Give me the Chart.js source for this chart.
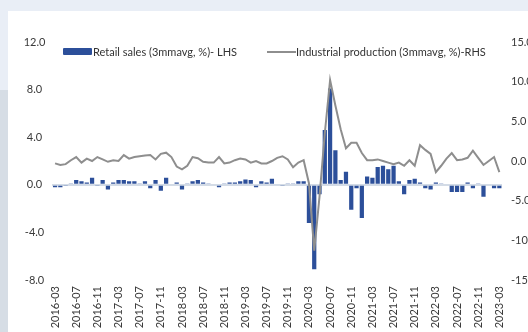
<!DOCTYPE html>
<html>
<head>
<meta charset="utf-8">
<script src="https://cdn.jsdelivr.net/npm/chart.js@4.4.1/dist/chart.umd.min.js"></script>
<style>
  html, body { margin: 0; padding: 0; }
  body {
    width: 528px; height: 332px; position: relative; overflow: hidden;
    background: #e9eef6; font-family: Lato, "Open Sans", sans-serif;
  }
  #sideShade { position: absolute; left: 0; top: 90px; width: 8px; height: 242px; background: #d6dde5; }
  #card { position: absolute; left: 8px; top: 11px; right: 0; bottom: 0; background: #fff; }
  #chart { position: absolute; left: 0; top: 0; }
  .swatch { position: absolute; }
  .legend-text { position: absolute; top: 44px; font-size: 11px; line-height: 15px; color: #333; white-space: nowrap; }
</style>
</head>
<body>
<div id="sideShade"></div>
<div id="card"></div>
<canvas id="chart" width="528" height="332"></canvas>

<div class="swatch" style="left:63px; top:48px; width:29px; height:7px; background:#2c4f9a; border-radius:1px;"></div>
<div class="legend-text" style="left:93px;">Retail sales (3mmavg, %)- LHS</div>
<div class="swatch" style="left:267px; top:51px; width:29px; height:2px; background:#8e8e8e;"></div>
<div class="legend-text" style="left:296px;">Industrial production (3mmavg, %)-RHS</div>

<script>
// Monthly series, 2016-03 .. 2023-03
const months = [
  "2016-03", "2016-04", "2016-05", "2016-06", "2016-07", "2016-08", "2016-09", "2016-10", "2016-11", "2016-12",
  "2017-01", "2017-02", "2017-03", "2017-04", "2017-05", "2017-06", "2017-07", "2017-08", "2017-09", "2017-10", "2017-11", "2017-12",
  "2018-01", "2018-02", "2018-03", "2018-04", "2018-05", "2018-06", "2018-07", "2018-08", "2018-09", "2018-10", "2018-11", "2018-12",
  "2019-01", "2019-02", "2019-03", "2019-04", "2019-05", "2019-06", "2019-07", "2019-08", "2019-09", "2019-10", "2019-11", "2019-12",
  "2020-01", "2020-02", "2020-03", "2020-04", "2020-05", "2020-06", "2020-07", "2020-08", "2020-09", "2020-10", "2020-11", "2020-12",
  "2021-01", "2021-02", "2021-03", "2021-04", "2021-05", "2021-06", "2021-07", "2021-08", "2021-09", "2021-10", "2021-11", "2021-12",
  "2022-01", "2022-02", "2022-03", "2022-04", "2022-05", "2022-06", "2022-07", "2022-08", "2022-09", "2022-10", "2022-11", "2022-12",
  "2023-01", "2023-02", "2023-03"
];

// Retail sales, 3m moving average, % (left axis)
const retailSales = [
  -0.2, -0.2, -0.1, 0.1, 0.4, 0.3, 0.2, 0.6, -0.1, 0.4,
  -0.4, 0.2, 0.4, 0.4, 0.3, 0.3, 0.1, 0.3, -0.3, 0.4,
  -0.5, 0.6, 0.0, 0.2, -0.4, 0.1, 0.3, 0.4, 0.2, 0.1,
  0.0, -0.2, 0.1, 0.2, 0.2, 0.3, 0.45, 0.4, -0.2, 0.3,
  0.2, 0.5, 0.0, -0.1, 0.1, 0.1, 0.3, 0.3, -3.2, -7.1,
  -0.8, 4.6, 8.1, 2.9, 0.4, 1.1, -2.1, -0.3, -2.8, 0.7,
  0.6, 1.5, 1.6, 1.3, 1.6, 0.3, -0.8, 0.4, 0.5, 0.2,
  -0.3, -0.4, 0.2, 0.1, 0.0, -0.6, -0.6, -0.6, 0.2, -0.3,
  0.1, -1.0, 0.0, -0.3, -0.3
];

// Industrial production, 3m moving average, % (right axis)
const industrialProduction = [
  -0.3, -0.5, -0.4, 0.1, 0.5, -0.2, 0.3, 0.0, 0.5, 0.2,
  -0.1, 0.1, 0.0, 0.75, 0.3, 0.5, 0.6, 0.7, 0.75, 0.2,
  0.9, 1.05, 0.5, -0.7, -1.05, -0.6, 0.5, 0.35, -0.1, -0.2,
  -0.2, 0.5, -0.3, -0.2, 0.1, 0.3, 0.2, -0.2, 0.0, -0.3,
  -0.3, 0.0, 0.4, 0.6, 0.2, -0.8, -0.2, 0.1, -2.8, -11.3,
  -4.5, 3.5, 10.2, 7.0, 4.0, 1.6, 2.3, 2.3, 1.0, 0.1,
  0.1, 0.2, 0.0, -0.2, -0.4, -0.2, -0.6, 0.1, -0.6, 2.0,
  1.4, 0.9, -1.4, -0.6, 0.3, 1.0, 0.1, 0.2, 0.4, 1.3,
  0.4, -0.5, 0.0, 0.5, -1.4
];

const leftTicks = { min: -8, max: 12, step: 4 };
const rightTicks = { min: -15, max: 15, step: 5 };

const BAR_BLUE = "#2c4f9a";
const LINE_GREY = "#8e8e8e";
const TEXT = "#3a3a3a";

Chart.defaults.font.family = "Lato, 'Open Sans', sans-serif";
Chart.defaults.font.size = 11;
Chart.defaults.color = TEXT;

new Chart(document.getElementById("chart"), {
  data: {
    labels: months,
    datasets: [
      {
        type: "line",
        label: "Industrial production (3mmavg, %)-RHS",
        data: industrialProduction,
        yAxisID: "yRight",
        borderColor: LINE_GREY,
        borderWidth: 2,
        pointRadius: 0,
        tension: 0,
        order: 1
      },
      {
        type: "bar",
        label: "Retail sales (3mmavg, %)- LHS",
        data: retailSales,
        yAxisID: "yLeft",
        backgroundColor: BAR_BLUE,
        barPercentage: 0.8,
        categoryPercentage: 1,
        order: 2
      }
    ]
  },
  options: {
    responsive: false,
    animation: false,
    layout: { padding: { top: 42, left: 8, right: 0, bottom: 0 } },
    plugins: { legend: { display: false }, tooltip: { enabled: false } },
    scales: {
      x: {
        grid: { display: false, drawTicks: false },
        border: { display: false },
        ticks: {
          autoSkip: false,
          maxRotation: 90,
          minRotation: 90,
          padding: 6,
          color: TEXT,
          callback: (v, i) => (i % 4 === 0 ? months[i] : "")
        },
        afterFit: (s) => { s.height = 52; }
      },
      yLeft: {
        position: "left",
        min: leftTicks.min,
        max: leftTicks.max,
        ticks: {
          stepSize: leftTicks.step,
          crossAlign: "center",
          padding: 7,
          color: TEXT,
          callback: (v) => v.toFixed(1)
        },
        grid: {
          drawTicks: false,
          // only the zero line is drawn
          color: (c) => (c.tick && c.tick.value === 0 ? "#d3dbe6" : "rgba(0,0,0,0)"),
          lineWidth: 2
        },
        border: { display: false },
        afterFit: (s) => { s.width = 44.4; }
      },
      yRight: {
        position: "right",
        min: rightTicks.min,
        max: rightTicks.max,
        ticks: {
          stepSize: rightTicks.step,
          padding: 9,
          color: TEXT,
          callback: (v) => v.toFixed(1)
        },
        grid: { display: false, drawTicks: false },
        border: { display: false },
        afterFit: (s) => { s.width = 26; }
      }
    }
  }
});
</script>
</body>
</html>
